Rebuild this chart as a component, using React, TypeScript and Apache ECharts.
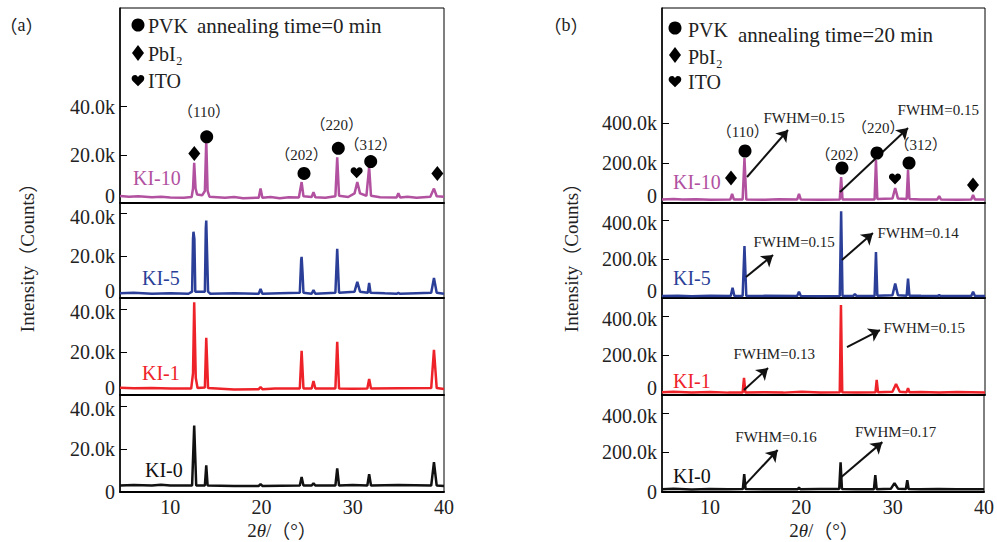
import React, { useEffect, useRef } from "react";
import * as echarts from "echarts";

// ---------- data (intensity in thousands of counts) ----------
const ki10A: number[][] = [[4.5,2.9],[5.5,2.6],[6.5,2.8],[8,2.4],[9,2.6],[10,2.3],[11.5,2.2],[12.35,2.5],[12.5,6],[12.63,16.7],[12.78,6],[12.95,3.5],[13.5,3.2],[13.8,5],[13.95,26],[14.1,5],[14.3,2.6],[16,2.2],[17,2.5],[18,2.0],[19.7,2.2],[19.9,6],[20.1,2.2],[21,2.5],[22,2.0],[23,2.4],[24.1,2.3],[24.4,8.7],[24.6,2.8],[25.5,2.5],[25.7,4.5],[25.9,2.4],[27,2.2],[28.1,2.8],[28.3,19],[28.5,3],[29.5,2.5],[30.2,4],[30.5,8.7],[30.8,4],[31.5,3],[31.8,15],[32,3],[33,2.4],[34.8,2.3],[35,4],[35.2,2.3],[36,2.6],[37,2.2],[38.5,2.6],[38.9,6],[39.2,2.8],[40,2.6]];
const ki5A: number[][] = [[4.5,2.2],[6,2.5],[8,2],[10,2.3],[12,2],[12.4,3],[12.5,28],[12.55,31.4],[12.65,28],[12.75,3],[13.8,3],[13.9,33],[13.95,36.7],[14.05,20],[14.15,3],[14.4,2],[17,2.3],[19.7,2],[19.9,4.3],[20.1,2],[22,2.3],[24.2,2.5],[24.35,18],[24.4,19.5],[24.5,12],[24.6,2.5],[25.5,2],[25.7,3.8],[25.9,2],[28.1,2.5],[28.3,23.3],[28.5,2.5],[30.2,3],[30.5,7.6],[30.8,3],[31.65,2.5],[31.8,7.1],[31.95,2.5],[33.5,2.2],[34.8,2],[35,2.4],[35.2,2],[37,2.3],[38.6,2.5],[38.9,9.5],[39.2,2.5],[40,2]];
const ki1A: number[][] = [[4.5,3.4],[6,3.1],[8,3.2],[10,3],[12.3,3],[12.5,10],[12.63,43],[12.8,8],[13,3.2],[13.8,3.5],[13.95,26.5],[14.15,3.2],[17,2.6],[19.7,2.7],[19.9,3.7],[20.1,2.7],[21.5,3],[24.2,3],[24.4,20.5],[24.6,3],[25.5,3],[25.7,6.5],[25.9,3],[28.1,3],[28.3,24.7],[28.5,3],[30,2.9],[31.6,3],[31.8,7.4],[32,3],[35,3.1],[38.6,3.2],[38.9,21],[39.2,3.2],[40,2.8]];
const ki0A: number[][] = [[4.5,3],[6,3.3],[8,3],[9,3.4],[10,3],[12.4,3],[12.63,30.8],[12.85,3],[13.8,3],[13.95,12.4],[14.1,3],[17,2.8],[19.7,2.8],[19.9,3.7],[20.1,2.8],[24.2,3],[24.4,7],[24.6,3],[25.5,3],[25.7,4.1],[25.9,3],[28.1,3],[28.3,11],[28.5,3],[30,3.2],[31.6,3],[31.8,8.3],[32,3],[35,3.2],[38.6,3],[38.9,13.8],[39.2,3],[40,2.8]];

const ki10B: number[][] = [[4.75,18],[6,20],[7,17],[8.5,19],[10,16],[12.2,17],[12.4,45],[12.6,17],[13.55,18],[13.75,225],[13.95,18],[16,16],[17.5,19],[19.5,17],[19.7,45],[19.9,17],[22,16],[24.15,18],[24.3,130],[24.45,18],[26,17],[27.95,18],[28.1,215],[28.25,20],[29.9,22],[30.2,75],[30.5,22],[31.45,20],[31.6,165],[31.75,20],[33,17],[34.8,18],[35,35],[35.2,17],[37,16],[38.5,18],[38.7,40],[38.9,18],[40,17]];
const ki5B: number[][] = [[4.75,10],[6.5,12],[8,9],[10,11],[12.25,10],[12.45,53],[12.65,10],[13.55,10],[13.75,268],[13.95,10],[16,11],[19.5,10],[19.7,32],[19.9,10],[22,9],[24.15,10],[24.3,447],[24.45,10],[25.6,10],[25.8,20],[26,10],[27.95,10],[28.1,237],[28.25,12],[29.9,14],[30.2,74],[30.5,14],[31.45,12],[31.6,100],[31.75,12],[33,11],[34.8,10],[35,15],[35.2,10],[38.5,10],[38.7,32],[38.9,10],[40,10]];
const ki1B: number[][] = [[4.75,14],[6,16],[8,13],[10,15],[12,12],[13.55,12],[13.7,86],[13.85,12],[16,14],[18,12],[20,16],[22,13],[24.15,14],[24.28,455],[24.42,14],[26,13],[28.05,14],[28.18,76],[28.32,14],[29.9,16],[30.29,56],[30.7,16],[31.45,14],[31.6,35],[31.75,14],[33,15],[35,13],[37,15],[40,12]];
const ki0B: number[][] = [[4.75,14],[6,16],[8,13],[10,15],[12,14],[13.6,15],[13.75,90],[13.9,15],[17,14],[19.6,14],[19.75,22],[19.9,14],[22,15],[24.15,15],[24.3,150],[24.45,15],[26,14],[27.95,14],[28.1,85],[28.25,14],[29.8,16],[30.2,45],[30.6,16],[31.45,15],[31.6,60],[31.75,15],[33,14],[35,15],[37,14],[40,14]];

const sampleNames = ["KI-10", "KI-5", "KI-1", "KI-0"];
const xTickLabels = [10, 20, 30, 40];
const yTicksA = [0, 20, 40];
const yTicksB = [0, 200, 400];

// phase markers on the KI-10 traces: [shape, 2θ, intensity]
const markersA: [string, number, number][] = [["diamond",12.64,20.6],["circle",14.0,27.5],["circle",24.66,12.3],["circle",28.42,22.7],["heart",30.43,12.6],["circle",31.97,17.2],["diamond",39.27,12.3]];
const markersB: [string, number, number][] = [["diamond",12.28,125],["circle",13.81,260],["circle",24.39,175],["circle",28.21,250],["heart",30.18,120],["circle",31.71,200],["diamond",38.69,90]];
const hklA: [string, number, number][] = [["（110）",13.7,37.9],["（202）",24.4,19.9],["（220）",28.24,32.4],["（312）",31.97,24.1]];
const hklB: [string, number, number][] = [["（110）",13.57,356],["（202）",24.36,240],["（220）",28.36,373],["（312）",32.98,290]];

// FWHM notes for panel (b): [row, text, textX, textY, arrowFromX, arrowFromY, arrowToX, arrowToY]
const fwhmB: [number, string, number, number, number, number, number, number][] = [
  [0, "FWHM=0.15", 15.77, 425, 14.03, 130, 18.5, 365],
  [0, "FWHM=0.15", 30.4, 465, 24.18, 55, 31.6, 375],
  [1, "FWHM=0.15", 14.68, 289, 13.92, 108, 16.87, 222],
  [1, "FWHM=0.14", 28.21, 335, 24.39, 196, 27.77, 335],
  [2, "FWHM=0.13", 12.5, 207, 13.7, 25, 16.32, 136],
  [2, "FWHM=0.15", 28.87, 338, 24.94, 242, 28.54, 328],
  [3, "FWHM=0.16", 12.72, 278, 13.81, 35, 17.41, 212],
  [3, "FWHM=0.17", 25.81, 303, 24.39, 76, 28.87, 252],
];

// ---------- styling ----------
const SERIF = "'Liberation Serif',serif";
const FONT = "'Liberation Serif','Noto Sans CJK SC',serif";
const CJK = "'Noto Sans CJK SC'";
const COLORS = ["#b1519f", "#2b3f98", "#ee2229", "#111111"];
const HEART_D = "M10 19 L1.8 10.5 C-1.5 6.5 1 0.5 5.8 0.8 C8 1 9.3 2.6 10 4.2 C10.7 2.6 12 1 14.2 0.8 C19 0.5 21.5 6.5 18.2 10.5 Z";
echarts.graphic.registerShape("heart", echarts.graphic.extendPath(HEART_D, {}));

const rowTops = [8, 203, 298, 395];
const rowHeights = [195, 95, 97, 97];

function markerSymbol(shape: string) {
  if (shape === "heart") return { symbol: "path://" + HEART_D, symbolSize: [12, 11] };
  if (shape === "diamond") return { symbol: "diamond", symbolSize: [12, 15] };
  return { symbol: "circle", symbolSize: 13 };
}

function buildOption() {
  const panels = [
    { left: 120, width: 324, xMin: 4.5, data: [ki10A, ki5A, ki1A, ki0A], yMax: [81, 45, 45, 45], ticks: yTicksA, markers: markersA, hkl: hklA },
    { left: 662, width: 323, xMin: 4.75, data: [ki10B, ki5B, ki1B, ki0B], yMax: [975, 490, 490, 490], ticks: yTicksB, markers: markersB, hkl: hklB },
  ];
  const grid: any[] = [];
  const xAxis: any[] = [];
  const yAxis: any[] = [];
  const series: any[] = [];
  panels.forEach((p, pi) => {
    const topTick = p.ticks[p.ticks.length - 1];
    for (let r = 0; r < 4; r++) {
      const i = pi * 4 + r;
      grid.push({ left: p.left, width: p.width, top: rowTops[r], height: rowHeights[r], show: true, borderColor: "#000", borderWidth: 1, backgroundColor: "transparent" });
      xAxis.push({
        type: "value", gridIndex: i, min: p.xMin, max: 40,
        axisLine: { show: true, onZero: false, lineStyle: { color: "#000", width: 2 } },
        axisTick: { show: false }, splitLine: { show: false },
        axisLabel: r === 3
          ? { show: true, customValues: xTickLabels, fontSize: 20, lineHeight: 18, color: "#222", fontFamily: SERIF, margin: 6 }
          : { show: false },
      });
      const labStyle = { fontSize: 20, color: "#222", fontFamily: SERIF };
      yAxis.push({
        type: "value", gridIndex: i, min: 0, max: p.yMax[r],
        axisLine: { show: true, lineStyle: { color: "#000", width: 1.5 } },
        axisTick: { show: true, inside: true, length: 7, customValues: p.ticks, lineStyle: { color: "#000", width: 1 } },
        axisLabel: {
          show: true, customValues: p.ticks,
          formatter: (v: number) => (v === 0 ? "{z|0}" : v === topTick ? "{t|" + v.toFixed(1) + "k}" : v.toFixed(1) + "k"),
          ...labStyle, margin: 5,
          rich: {
            z: { ...labStyle, padding: r === 3 ? [0, 0, 0, 0] : [0, 0, 14, 0] },
            t: { ...labStyle, padding: r === 0 ? [0, 0, 0, 0] : [6, 0, 0, 0] },
          },
        },
        splitLine: { show: false },
      });
      const mpData: any[] = [];
      const mlData: any[] = [];
      if (r === 0) {
        p.markers.forEach(([shape, x, y]) => {
          mpData.push({ coord: [x, y], ...markerSymbol(shape), itemStyle: { color: "#000" }, label: { show: false } });
        });
        p.hkl.forEach(([t, x, y]) => {
          mpData.push({ coord: [x, y], symbol: "circle", symbolSize: 1, itemStyle: { color: "rgba(0,0,0,0)" },
            label: { show: true, position: "inside", formatter: t, fontSize: 15, color: "#222", fontFamily: FONT } });
        });
      }
      if (pi === 1) {
        fwhmB.filter((f) => f[0] === r).forEach(([, t, tx, ty, ax, ay, bx, by]) => {
          mpData.push({ coord: [tx, ty], symbol: "circle", symbolSize: 1, itemStyle: { color: "rgba(0,0,0,0)" },
            label: { show: true, position: "right", distance: 0, formatter: t, fontSize: 15, color: "#222", fontFamily: SERIF } });
          mlData.push([{ coord: [ax, ay] }, { coord: [bx, by] }]);
        });
      }
      series.push({
        type: "line", name: sampleNames[r], xAxisIndex: i, yAxisIndex: i, data: p.data[r],
        showSymbol: false, silent: true,
        lineStyle: { color: COLORS[r], width: 2.5 }, itemStyle: { color: COLORS[r] },
        markPoint: mpData.length ? { silent: true, data: mpData } : undefined,
        markLine: mlData.length ? { silent: true, symbol: ["none", "arrow"], symbolSize: 11, label: { show: false },
          lineStyle: { color: "#111", width: 2, type: "solid" }, data: mlData } : undefined,
      });
    }
  });

  const txt = (x: number, y: number, text: string, size: number, fill = "#222", align = "left", extra: any = {}) => {
    const { styleExtra, ...rest } = extra;
    return {
      type: "text", x, y, silent: true, ...rest,
      style: { text, fontSize: size, fontFamily: SERIF, fill, align, verticalAlign: "middle", ...(styleExtra || {}) },
    };
  };
  const mixRich = (size: number) => ({
    s: { fontSize: size, fontFamily: SERIF, fill: "#222", lineHeight: size },
    c: { fontSize: size, fontFamily: CJK, fill: "#222", lineHeight: size },
    i: { fontSize: size, fontFamily: SERIF, fontStyle: "italic", fill: "#222", lineHeight: size },
  });

  const graphic: any[] = [
    txt(21.5, 25, "{c|（}{s|a}{c|）}", 18, "#222", "center", { styleExtra: { rich: mixRich(18) } }),
    txt(566, 25, "{c|（}{s|b}{c|）}", 18, "#222", "center", { styleExtra: { rich: mixRich(18) } }),
    txt(27, 253, "{s|Intensity}{c|（}{s|Counts}{c|）}", 19, "#222", "center", { rotation: Math.PI / 2, styleExtra: { rich: mixRich(19) } }),
    txt(571, 253, "{s|Intensity}{c|（}{s|Counts}{c|）}", 19, "#222", "center", { rotation: Math.PI / 2, styleExtra: { rich: mixRich(19) } }),
    txt(282, 530, "{s|2}{i|θ}{s|/}{c|（}{s|°}{c|）}", 19, "#222", "center", { styleExtra: { rich: mixRich(19) } }),
    txt(824, 530, "{s|2}{i|θ}{s|/}{c|（}{s|°}{c|）}", 19, "#222", "center", { styleExtra: { rich: mixRich(19) } }),
    // legend (a)
    { type: "circle", shape: { cx: 138, cy: 25, r: 6.5 }, style: { fill: "#000" } },
    txt(148, 26, "PVK", 20),
    txt(197, 26, "annealing time=0 min", 21),
    { type: "polygon", shape: { points: [[138, 45], [144, 53], [138, 61], [132, 53]] }, style: { fill: "#000" } },
    txt(148, 54, "PbI₂", 20),
    { type: "heart", x: 131.5, y: 74.5, scaleX: 0.65, scaleY: 0.62, style: { fill: "#000" } },
    txt(148, 81, "ITO", 20),
    // legend (b)
    { type: "circle", shape: { cx: 675, cy: 28, r: 6.5 }, style: { fill: "#000" } },
    txt(688, 30, "PVK", 20),
    txt(738, 35, "annealing time=20 min", 21),
    { type: "polygon", shape: { points: [[675, 47], [681, 55], [675, 63], [669, 55]] }, style: { fill: "#000" } },
    txt(688, 57, "PbI₂", 20),
    { type: "heart", x: 668.5, y: 75.5, scaleX: 0.65, scaleY: 0.62, style: { fill: "#000" } },
    txt(688, 82, "ITO", 20),
  ];
  const labelPos = [
    [[133, 178], [142, 278], [142, 373], [145, 470]],
    [[673, 182], [673, 278], [673, 381], [673, 476]],
  ];
  labelPos.forEach((rows) => rows.forEach(([x, y], r) => graphic.push(txt(x, y, sampleNames[r], 20, COLORS[r]))));

  return { animation: false, backgroundColor: "#fff", grid, xAxis, yAxis, series, graphic };
}

export default function App() {
  const ref = useRef<HTMLDivElement>(null);
  useEffect(() => {
    if (!ref.current) return;
    const chart = echarts.init(ref.current, undefined, { renderer: "svg" });
    chart.setOption(buildOption() as any);
    return () => chart.dispose();
  }, []);
  return <div ref={ref} style={{ position: "fixed", left: 0, top: 0, width: 997, height: 542, background: "#fff" }} />;
}
